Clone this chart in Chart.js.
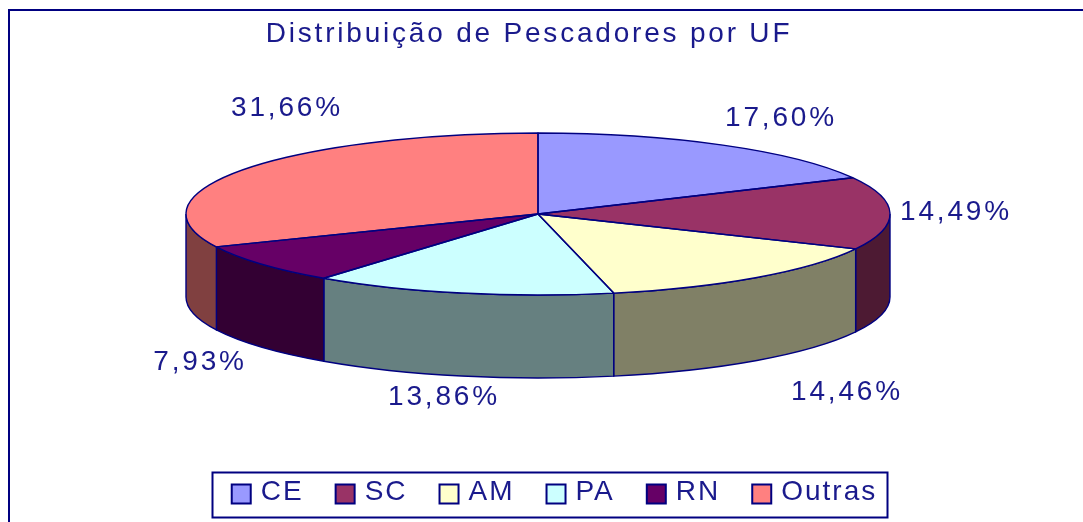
<!DOCTYPE html>
<html>
<head>
<meta charset="utf-8">
<style>
html,body{margin:0;padding:0;background:#fff;overflow:hidden}
#wrap{position:relative;width:1083px;height:522px}
canvas{display:block;filter:blur(0.45px)}
</style>
<script src="https://cdn.jsdelivr.net/npm/chart.js@4/dist/chart.umd.min.js"></script>
</head>
<body>
<div id="wrap"><canvas id="c" width="1083" height="522"></canvas></div>
<script>
const titleText = 'Distribuição de Pescadores por UF';
const categories = ['CE', 'SC', 'AM', 'PA', 'RN', 'Outras'];
const shares = [17.60, 14.49, 14.46, 13.86, 7.93, 31.66];
const topColours = ['#9999ff', '#993366', '#ffffcc', '#ccffff', '#660066', '#ff8080'];
const wallColours = ['#4d4d80', '#4d1a33', '#808066', '#668080', '#330033', '#804040'];
const inkColour = '#1a1a8c';
const lineColour = '#000080';

// Drawing geometry of the tilted pie
const PIE = {cx: 538, cy: 214, rx: 352, ry: 81, depth: 83};
// Label anchor centres, one per slice
const labelAnchors = [[781,118],[956,212],[847,392],[444,397],[200,362],[287,108]];

const fontFam = '"Liberation Sans", Arial, sans-serif';

const pie3d = {
  id: 'pie3d',
  beforeDatasetsDraw(chart) {
    const ctx = chart.ctx, arcs = chart.getDatasetMeta(0).data;
    const {cx, cy, rx, ry, depth} = PIE;
    ctx.save();
    ctx.lineWidth = 1.4;
    ctx.strokeStyle = lineColour;
    arcs.forEach((arc, i) => {
      const a = Math.max(arc.startAngle, 0), b = Math.min(arc.endAngle, Math.PI);
      if (b <= a) return;
      ctx.beginPath();
      ctx.ellipse(cx, cy, rx, ry, 0, a, b);
      ctx.ellipse(cx, cy + depth, rx, ry, 0, b, a, true);
      ctx.closePath();
      ctx.fillStyle = wallColours[i];
      ctx.fill();
      ctx.stroke();
    });
    ctx.restore();
    // Map the library's round pie onto the tilted ellipse
    const el = arcs[0];
    ctx.save();
    ctx.translate(cx, cy);
    ctx.scale(rx / el.outerRadius, ry / el.outerRadius);
    ctx.translate(-el.x, -el.y);
  },
  afterDatasetsDraw(chart) {
    const ctx = chart.ctx, arcs = chart.getDatasetMeta(0).data;
    ctx.restore();
    const {cx, cy, rx, ry} = PIE;
    ctx.save();
    ctx.lineWidth = 1.4;
    ctx.strokeStyle = lineColour;
    ctx.lineJoin = 'round';
    arcs.forEach(arc => {
      ctx.beginPath();
      ctx.moveTo(cx, cy);
      ctx.ellipse(cx, cy, rx, ry, 0, arc.startAngle, arc.endAngle);
      ctx.closePath();
      ctx.stroke();
    });
    // Percentage labels
    ctx.fillStyle = inkColour;
    ctx.font = '28px ' + fontFam;
    ctx.letterSpacing = '2.8px';
    ctx.textAlign = 'center';
    ctx.textBaseline = 'middle';
    chart.data.datasets[0].data.forEach((v, i) => {
      const [x, y] = labelAnchors[i];
      ctx.fillText(v.toFixed(2).replace('.', ',') + '%', x, y);
    });
    ctx.restore();
  }
};

const frame = {
  id: 'frame',
  beforeUpdate(chart) {
    chart.ctx.letterSpacing = '2px';
  },
  afterLayout(chart) {
    // Title sits left of the plot's centre and is spaced wider than the legend
    const tb = chart.titleBlock, ctx = chart.ctx;
    tb.left -= 25.5;
    tb.right -= 25.5;
    const drawTitle = tb.draw;
    tb.draw = function (area) {
      ctx.letterSpacing = '2.8px';
      drawTitle.call(this, area);
      ctx.letterSpacing = '2px';
    };
  },
  beforeDraw(chart) {
    const ctx = chart.ctx;
    ctx.save();
    ctx.strokeStyle = lineColour;
    ctx.lineWidth = 2;
    ctx.beginPath();
    ctx.moveTo(9, 522); ctx.lineTo(9, 10); ctx.lineTo(1083, 10);
    ctx.stroke();
    ctx.restore();
  },
  afterDraw(chart) {
    const ctx = chart.ctx;
    ctx.save();
    ctx.strokeStyle = lineColour;
    ctx.lineWidth = 2;
    ctx.strokeRect(212.5, 472.5, 675, 45);
    // Legend swatches, one per legend entry
    chart.legend.legendHitBoxes.forEach((hb, i) => {
      ctx.fillStyle = topColours[i];
      const y = hb.top + hb.height / 2 - 9.5 + 2;
      ctx.fillRect(hb.left, y, 19, 19);
      ctx.strokeRect(hb.left, y, 19, 19);
    });
    ctx.restore();
  }
};

new Chart(document.getElementById('c'), {
  type: 'pie',
  data: {
    labels: categories,
    datasets: [{
      data: shares,
      backgroundColor: topColours,
      borderWidth: 0,
      clip: false
    }]
  },
  plugins: [frame, pie3d],
  options: {
    responsive: false,
    animation: false,
    events: [],
    layout: {padding: {left: 26, bottom: 6}},
    plugins: {
      tooltip: {enabled: false},
      title: {
        display: true,
        text: titleText,
        color: inkColour,
        font: {family: fontFam, size: 28, weight: 'normal'},
        padding: {top: 17, bottom: 8}
      },
      legend: {
        position: 'bottom',
        labels: {
          color: inkColour,
          font: {family: fontFam, size: 28},
          boxWidth: 15,
          boxHeight: 15,
          padding: 32,
          generateLabels(chart) {
            return chart.data.labels.map((t, i) => ({
              text: t,
              fillStyle: 'rgba(0,0,0,0)',
              strokeStyle: 'rgba(0,0,0,0)',
              fontColor: inkColour,
              lineWidth: 0,
              index: i
            }));
          }
        }
      }
    }
  }
});
</script>
</body>
</html>
